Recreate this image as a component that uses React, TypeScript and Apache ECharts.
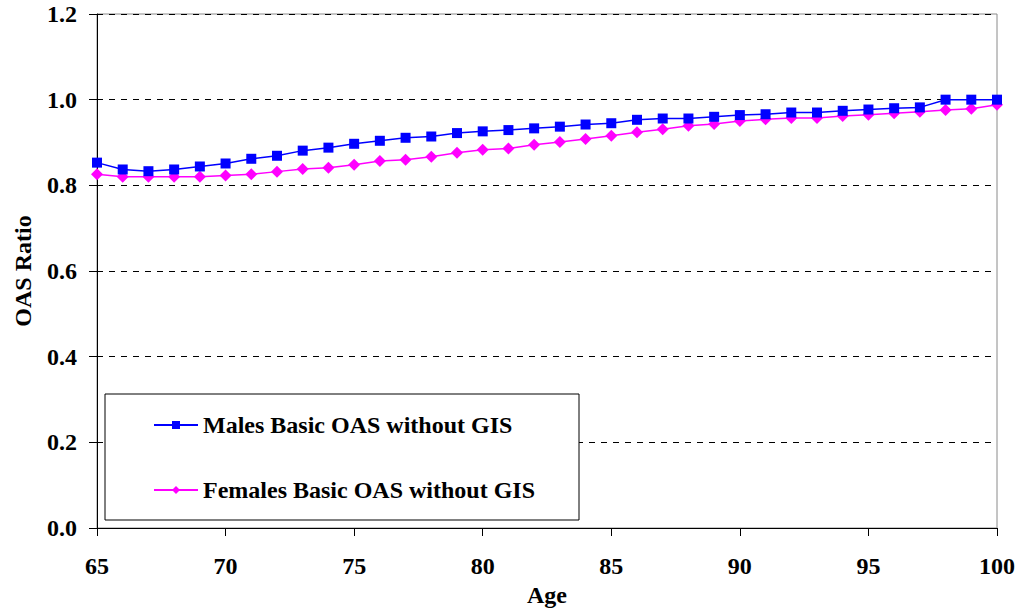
import React, { useEffect, useRef } from "react";
import * as echarts from "echarts";

const ages: number[] = [
  65, 66, 67, 68, 69, 70, 71, 72, 73, 74, 75, 76, 77, 78, 79, 80, 81, 82,
  83, 84, 85, 86, 87, 88, 89, 90, 91, 92, 93, 94, 95, 96, 97, 98, 99, 100,
];

const malesValues: number[] = [
  0.853, 0.837, 0.833, 0.837, 0.844, 0.851, 0.862, 0.869, 0.881, 0.888,
  0.897, 0.904, 0.911, 0.914, 0.922, 0.926, 0.929, 0.933, 0.937, 0.942,
  0.945, 0.953, 0.956, 0.956, 0.96, 0.964, 0.966, 0.97, 0.97, 0.974,
  0.977, 0.98, 0.982, 1.0, 1.0, 1.0,
];

const femalesValues: number[] = [
  0.826, 0.82, 0.82, 0.82, 0.82, 0.823, 0.826, 0.832, 0.838, 0.841,
  0.848, 0.857, 0.86, 0.867, 0.876, 0.883, 0.886, 0.895, 0.901, 0.908,
  0.916, 0.924, 0.931, 0.939, 0.943, 0.95, 0.954, 0.957, 0.957, 0.962,
  0.965, 0.968, 0.972, 0.976, 0.979, 0.988,
];

const seriesNames: string[] = [
  "Males Basic OAS without GIS",
  "Females Basic OAS without GIS",
];

const xAxisName = "Age";
const yAxisName = "OAS Ratio";

const FONT = "'Liberation Serif', 'Times New Roman', serif";

export default function App() {
  const ref = useRef<HTMLDivElement>(null);

  useEffect(() => {
    if (!ref.current) return;
    const chart = echarts.init(ref.current, null, { renderer: "svg" });
    const toPairs = (vals: number[]) => ages.map((a, i) => [a, vals[i]]);
    chart.setOption({
      animation: false,
      backgroundColor: "#fff",
      grid: {
        left: 97,
        right: 21,
        top: 14,
        bottom: 83,
        show: true,
        borderColor: "#8a8a8a",
        borderWidth: 1,
        backgroundColor: "transparent",
      },
      legend: {
        left: 105,
        top: 394,
        orient: "vertical",
        backgroundColor: "#fff",
        borderColor: "#000",
        borderWidth: 1,
        padding: [19, 44, 18, 48],
        itemGap: 41,
        itemWidth: 44,
        itemHeight: 10,
        textStyle: {
          fontFamily: FONT,
          fontWeight: "bold",
          fontSize: 24,
          lineHeight: 24,
          color: "#000",
        },
        data: seriesNames,
      },
      xAxis: {
        type: "value",
        min: 65,
        max: 100,
        interval: 5,
        name: xAxisName,
        nameLocation: "middle",
        nameGap: 55,
        nameTextStyle: {
          fontFamily: FONT,
          fontWeight: "bold",
          fontSize: 24,
          color: "#000",
        },
        axisLine: { show: true, onZero: false, lineStyle: { color: "#000", width: 1 } },
        axisTick: { show: true, inside: false, length: 8, lineStyle: { color: "#000" } },
        axisLabel: {
          margin: 26,
          fontFamily: FONT,
          fontWeight: "bold",
          fontSize: 24,
          color: "#000",
        },
        splitLine: { show: false },
      },
      yAxis: {
        type: "value",
        min: 0,
        max: 1.2,
        interval: 0.2,
        name: yAxisName,
        nameLocation: "middle",
        nameGap: 62,
        nameTextStyle: {
          fontFamily: FONT,
          fontWeight: "bold",
          fontSize: 24,
          color: "#000",
        },
        axisLine: { show: true, lineStyle: { color: "#000", width: 1 } },
        axisTick: { show: true, inside: false, length: 8, lineStyle: { color: "#000" } },
        axisLabel: {
          margin: 20,
          fontFamily: FONT,
          fontWeight: "bold",
          fontSize: 24,
          color: "#000",
          formatter: (v: number) => v.toFixed(1),
        },
        splitLine: {
          show: true,
          lineStyle: { color: "#000", type: [6, 6], width: 1 },
        },
      },
      series: [
        {
          name: seriesNames[0],
          type: "line",
          data: toPairs(malesValues),
          symbol: "rect",
          symbolSize: 10,
          itemStyle: { color: "#0000ff" },
          lineStyle: { color: "#0000ff", width: 1.5 },
          z: 3,
        },
        {
          name: seriesNames[1],
          type: "line",
          data: toPairs(femalesValues),
          symbol: "diamond",
          symbolSize: 12,
          itemStyle: { color: "#ff00ff" },
          lineStyle: { color: "#ff00ff", width: 1.5 },
          z: 2,
        },
      ],
    });
    return () => chart.dispose();
  }, []);

  return (
    <div
      ref={ref}
      style={{ position: "absolute", left: 0, top: 0, width: 1018, height: 612 }}
    />
  );
}
